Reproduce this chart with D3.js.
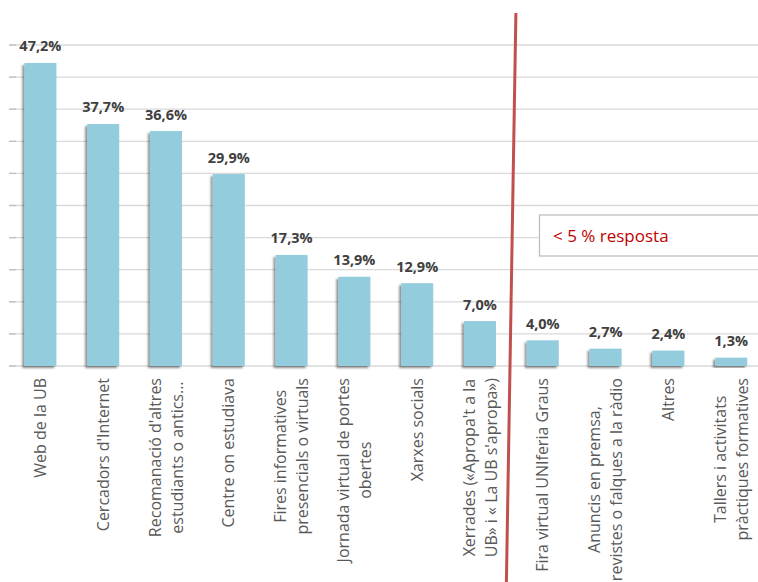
<!DOCTYPE html>
<html>
<head>
  <meta charset="utf-8">
  <title></title>
  <style type="text/css">
    body {
      margin: 0;
      background-color: white;
      overflow: hidden;
    }

    .grid line {
      stroke: #D9D9D9;
      stroke-width: 1.3px;
    }

    .tick-mark {
      stroke: #BFBFBF;
      stroke-width: 1.3px;
    }

    .bar {
      fill: #93CDDD;
    }

    .value {
      font-family: "Open Sans";
      font-weight: bold;
      font-size: 14.5px;
      fill: #404040;
      text-anchor: middle;
    }

    .cat {
      font-family: "Open Sans";
      font-size: 16px;
      fill: #595959;
      text-anchor: middle;
    }

    .note-box {
      fill: white;
      stroke: #BFBFBF;
      stroke-width: 1.3px;
    }

    .note {
      font-family: "Open Sans";
      font-size: 17px;
      fill: #C00000;
    }
  </style>
</head>
<body>
  <div class="chart"></div>

  <script src="https://cdn.jsdelivr.net/npm/d3@7"></script>
  <script type="text/javascript">

    var categories = [
      'Web de la UB',
      "Cercadors d'Internet",
      "Recomanació d'altres\nestudiants o antics...",
      'Centre on estudiava',
      'Fires informatives\npresencials o virtuals',
      'Jornada virtual de portes\nobertes',
      'Xarxes socials',
      "Xerrades («Apropa't a la\nUB» i « La UB s'apropa»)",
      'Fira virtual UNIferia Graus',
      'Anuncis en premsa,\nrevistes o falques a la ràdio',
      'Altres',
      'Tallers i activitats\npràctiques formatives'
    ];
    var values = [47.2, 37.7, 36.6, 29.9, 17.3, 13.9, 12.9, 7.0, 4.0, 2.7, 2.4, 1.3];
    var yTicks = [0, 5, 10, 15, 20, 25, 30, 35, 40, 45, 50];
    var threshold = 5;
    var noteText = '< 5 % resposta';

    var width = 758;
    var height = 582;

    var svg = d3.select('.chart').append('svg')
      .attr('width', width).attr('height', height);

    var defs = svg.append('defs');
    defs.append('filter')
      .attr('id', 'shadow')
      .attr('x', '-30%').attr('y', '-10%')
      .attr('width', '160%').attr('height', '130%')
      .append('feDropShadow')
        .attr('dx', -2).attr('dy', 2)
        .attr('stdDeviation', 1.3)
        .attr('flood-color', '#000')
        .attr('flood-opacity', 0.45);

    var x = d3.scaleBand()
      .domain(d3.range(categories.length))
      .range([9, 762.6])
      .paddingInner(0.49)
      .paddingOuter(0.245);

    var y = d3.scaleLinear()
      .domain([0, 50])
      .range([366, 45]);

    // gridlines + little ticks on the left
    var grid = svg.append('g').attr('class', 'grid');
    grid.selectAll('line')
      .data(yTicks).enter().append('line')
        .attr('x1', 9)
        .attr('x2', width)
        .attr('y1', function (d) { return y(d); })
        .attr('y2', function (d) { return y(d); });

    svg.append('g').selectAll('line')
      .data(yTicks).enter().append('line')
        .attr('class', 'tick-mark')
        .attr('x1', 9)
        .attr('x2', 16)
        .attr('y1', function (d) { return y(d); })
        .attr('y2', function (d) { return y(d); });

    // bars
    svg.append('g').selectAll('.bar')
      .data(values).enter().append('rect')
        .attr('class', 'bar')
        .attr('filter', 'url(#shadow)')
        .attr('x', function (d, i) { return x(i); })
        .attr('y', function (d) { return y(d); })
        .attr('width', x.bandwidth())
        .attr('height', function (d) { return y(0) - y(d); });

    // value labels
    svg.append('g').selectAll('.value')
      .data(values).enter().append('text')
        .attr('class', 'value')
        .attr('x', function (d, i) { return x(i) + x.bandwidth() / 2; })
        .attr('y', function (d) { return y(d) - 11.5; })
        .text(function (d) { return d.toFixed(1).replace('.', ',') + '%'; });

    // category labels, rotated, lines centred on each other, top aligned under the axis
    var labelTop = y(0) + 12;
    var lineGap = 22;
    var cats = svg.append('g').selectAll('.cat')
      .data(categories).enter().append('text')
        .attr('class', 'cat');

    cats.each(function (d, i) {
      var t = d3.select(this);
      var lines = d.split('\n');
      var cx = x(i) + x.bandwidth() / 2;
      var spans = lines.map(function (line, k) {
        return t.append('tspan')
          .attr('x', 0)
          .attr('y', (k - (lines.length - 1) / 2) * lineGap + 5.6)
          .text(line);
      });
      var maxW = d3.max(spans, function (s) { return s.node().getComputedTextLength(); });
      t.attr('transform', 'translate(' + cx + ',' + (labelTop + maxW / 2) + ') rotate(-90)');
    });

    // red separator between >=5% and <5%
    var split = values.findIndex(function (v) { return v < threshold; });
    var sepX = (x(split - 1) + x.bandwidth() + x(split)) / 2;
    svg.append('line')
      .attr('x1', sepX + 4.5).attr('y1', 13)
      .attr('x2', sepX - 5).attr('y2', height)
      .style('stroke', '#C0504D')
      .style('stroke-width', 3);

    // note box
    svg.append('rect')
      .attr('class', 'note-box')
      .attr('x', 539.5).attr('y', 215)
      .attr('width', 240).attr('height', 41);

    svg.append('text')
      .attr('class', 'note')
      .attr('x', 553).attr('y', 242)
      .text(noteText);
  </script>
</body>
</html>
